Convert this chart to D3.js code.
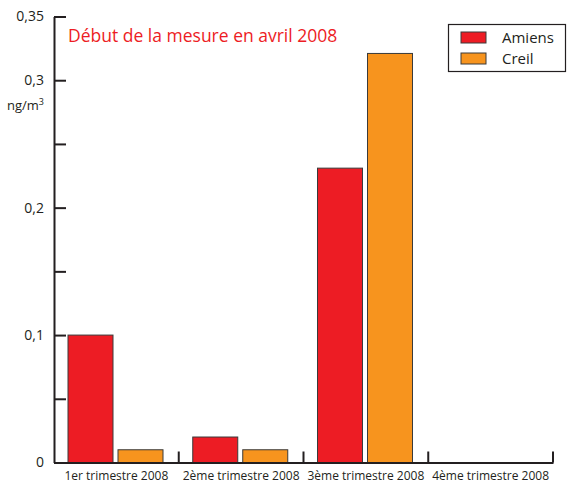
<!DOCTYPE html>
<html>
<head>
<meta charset="utf-8">
<script src="https://cdn.jsdelivr.net/npm/d3@7"></script>
<style>
  body { margin: 0; background: #fff; }
  svg { display: block; font-family: "Open Sans", "Noto Sans", sans-serif; }
</style>
</head>
<body>
<script>
const quarters = ["1er trimestre 2008", "2ème trimestre 2008", "3ème trimestre 2008", "4ème trimestre 2008"];
const seriesNames = ["Amiens", "Creil"];
const amiens = [0.1, 0.02, 0.231, 0];
const creil = [0.01, 0.01, 0.321, 0];
const yTicks = [0, 0.05, 0.1, 0.15, 0.2, 0.25, 0.3, 0.35];
const yLabelled = [0, 0.1, 0.2, 0.3, 0.35];
const colors = ["#ED1C24", "#F7941E"];

const width = 568;
const height = 483;

const svg = d3.select("body").append("svg")
  .attr("width", width)
  .attr("height", height);

const x = d3.scaleBand()
  .domain(quarters)
  .range([54, 553]);

const xSub = d3.scaleBand()
  .domain(seriesNames)
  .range([14, 109])
  .paddingInner(0.1);

const y = d3.scaleLinear()
  .domain([0, 0.35])
  .range([462.5, 16.5]);

const locale = d3.formatLocale({ decimal: ",", thousands: " ", grouping: [3], currency: ["", "€"] });
const fmt = v => yLabelled.some(l => Math.abs(l - v) < 1e-9) ? locale.format("")(+v.toFixed(2)) : "";

// bars
const rows = quarters.map((q, i) => ({ q, values: [amiens[i], creil[i]] }));

svg.append("g")
  .selectAll("g")
  .data(rows)
  .join("g")
  .attr("transform", d => `translate(${x(d.q)},0)`)
  .selectAll("rect")
  .data(d => d.values.map((v, j) => ({ name: seriesNames[j], v, j })))
  .join("rect")
  .attr("x", d => xSub(d.name))
  .attr("width", xSub.bandwidth())
  .attr("y", d => y(d.v))
  .attr("height", d => y(0) - y(d.v))
  .attr("fill", d => colors[d.j])
  .attr("stroke", "#3a3a3a")
  .attr("stroke-width", 1);

// y axis
const yAxis = svg.append("g")
  .attr("transform", "translate(54,0)")
  .call(d3.axisLeft(y).tickValues(yTicks).tickSizeInner(-12).tickSizeOuter(0).tickPadding(10).tickFormat(fmt));
yAxis.select(".domain").attr("stroke", "#231f20").attr("stroke-width", 2);
yAxis.selectAll(".tick line").attr("stroke", "#231f20").attr("stroke-width", 2);
yAxis.selectAll(".tick text").attr("font-size", 14).attr("fill", "#231f20")
  .attr("font-family", "'Open Sans', sans-serif");

// x axis
const xAxis = svg.append("g")
  .attr("transform", `translate(0,${y(0)})`)
  .call(d3.axisBottom(x).tickSize(0).tickPadding(8.5));
xAxis.select(".domain").attr("stroke", "#231f20").attr("stroke-width", 2);
xAxis.selectAll(".tick text").attr("font-size", 12).attr("fill", "#231f20")
  .attr("font-family", "'Open Sans', sans-serif");

svg.append("g")
  .selectAll("line")
  .data(quarters)
  .join("line")
  .attr("x1", d => x(d) + x.step())
  .attr("x2", d => x(d) + x.step())
  .attr("y1", y(0))
  .attr("y2", y(0) - 11)
  .attr("stroke", "#231f20")
  .attr("stroke-width", 2);

// unit
const unit = svg.append("text")
  .attr("x", 7)
  .attr("y", 110)
  .attr("font-size", 13)
  .attr("fill", "#231f20");
unit.append("tspan").text("ng/m");
unit.append("tspan").attr("font-size", 9).attr("dy", -5).text("3");

// title note
svg.append("text")
  .attr("x", 68)
  .attr("y", 42)
  .attr("font-size", 17.5)
  .attr("fill", "#ED1C24")
  .text("Début de la mesure en avril 2008");

// legend
const legend = svg.append("g");
legend.append("rect")
  .attr("x", 448.5)
  .attr("y", 24.5)
  .attr("width", 117)
  .attr("height", 47)
  .attr("fill", "#fff")
  .attr("stroke", "#231f20")
  .attr("stroke-width", 1.2);

const items = legend.selectAll("g")
  .data(seriesNames)
  .join("g")
  .attr("transform", (d, i) => `translate(461,${32 + i * 21})`);
items.append("rect")
  .attr("width", 25)
  .attr("height", 11)
  .attr("fill", (d, i) => colors[i])
  .attr("stroke", "#3a3a3a")
  .attr("stroke-width", 1);
items.append("text")
  .attr("x", 41)
  .attr("y", 11)
  .attr("font-size", 15)
  .attr("fill", "#231f20")
  .text(d => d);
</script>
</body>
</html>
